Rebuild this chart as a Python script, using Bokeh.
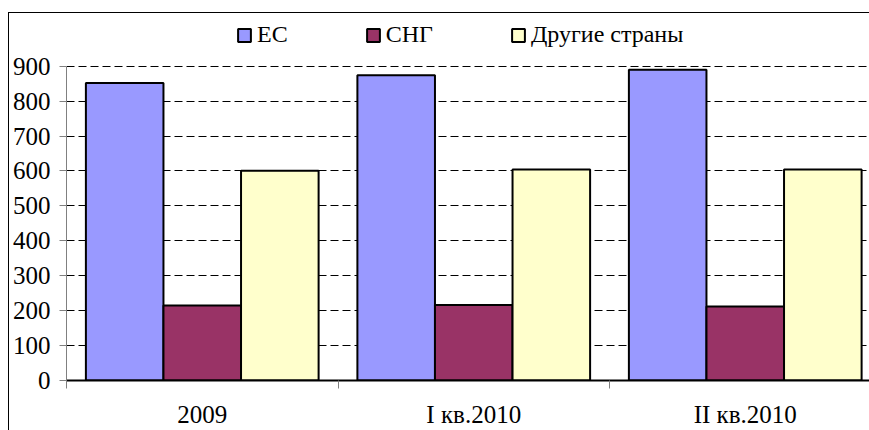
from bokeh.plotting import figure
from bokeh.models import ColumnDataSource, Range1d, FixedTicker, Legend, LegendItem
from bokeh.transform import dodge
from bokeh.embed import file_html
from bokeh.resources import INLINE

# ---- data ----
categories = ["2009", "I кв.2010", "II кв.2010"]
series_names = ["ЕС", "СНГ", "Другие страны"]
ec = [852, 874, 890]
sng = [215, 216, 212]
other = [601, 604, 604]
y_ticks = [0, 100, 200, 300, 400, 500, 600, 700, 800, 900]

colors = ["#9999FF", "#993366", "#FFFFCC"]
FONT = "Liberation Serif"

centers = [i + 0.5 for i in range(len(categories))]
src = ColumnDataSource(dict(x=centers, ec=ec, sng=sng, other=other))

W, H = 869, 430
frame_left, frame_top, frame_bottom = 66, 14, 382
axis_top_px = 66          # pixel row of the 900 gridline
cat_px = 271.5
x_end = (W - frame_left) / cat_px
y_max = y_ticks[-1]
y_end = y_max * (frame_bottom - frame_top) / (frame_bottom - axis_top_px)

p = figure(width=W, height=H, output_backend="svg", toolbar_location=None,
           x_range=Range1d(0, x_end), y_range=Range1d(0, y_end),
           min_border_left=frame_left, min_border_right=0,
           min_border_top=frame_top, min_border_bottom=H - frame_bottom,
           tools="")
p.outline_line_color = None
p.background_fill_color = None
p.border_fill_color = None
# chart-area border: left and top edges (the rest lies outside the picture)
p.styles = {
    "background-color": "white",
    "background-image": "linear-gradient(black, black), linear-gradient(black, black)",
    "background-size": "1px 100%, 100% 1px",
    "background-position": "8px 12px, 8px 12px",
    "background-repeat": "no-repeat",
}

bw = 1 / 3.5
renderers = []
for i, (col, c) in enumerate(zip(["ec", "sng", "other"], colors)):
    r = p.vbar(x=dodge("x", (i - 1) * bw, range=p.x_range), top=col, width=bw,
               source=src, fill_color=c, line_color="black", line_width=2)
    renderers.append(r)

# grid
p.xgrid.visible = False
p.ygrid.ticker = FixedTicker(ticks=y_ticks[1:])
p.ygrid.grid_line_color = "black"
p.ygrid.grid_line_dash = "8 4"
p.ygrid.grid_line_width = 1

# y axis
ya = p.yaxis[0]
ya.ticker = FixedTicker(ticks=y_ticks)
ya.bounds = (0, y_max)
ya.axis_line_color = "#808080"
ya.major_tick_line_color = "#808080"
ya.major_tick_out = 7
ya.major_tick_in = 0
ya.minor_tick_line_color = None
ya.major_label_standoff = 9
ya.major_label_text_font = FONT
ya.major_label_text_font_size = "25px"
ya.major_label_text_font_style = "normal"
ya.major_label_text_color = "black"

# x axis
xa = p.xaxis[0]
xa.ticker = FixedTicker(ticks=centers, minor_ticks=list(range(len(categories) + 1)))
xa.major_label_overrides = {c: lab for c, lab in zip(centers, categories)}
xa.major_tick_out = 0
xa.major_tick_in = 0
xa.minor_tick_out = 8
xa.minor_tick_in = 0
xa.minor_tick_line_color = "#808080"
xa.axis_line_color = "black"
xa.axis_line_width = 2
xa.major_label_standoff = 12
xa.major_label_text_font = FONT
xa.major_label_text_font_size = "25px"
xa.major_label_text_color = "black"

# legend (inside the frame, above the 900 gridline)
legend = Legend(items=[LegendItem(label=n, renderers=[r]) for n, r in zip(series_names, renderers)],
                orientation="horizontal", location=(170, frame_bottom - 50),
                glyph_width=16, glyph_height=16, label_standoff=5, spacing=77,
                padding=0, margin=0, border_line_color=None,
                background_fill_alpha=0, label_text_font=FONT,
                label_text_font_size="24px", label_text_font_style="normal",
                label_text_color="black")
p.add_layout(legend, "center")

open("out.html", "w").write(file_html(p, INLINE))
